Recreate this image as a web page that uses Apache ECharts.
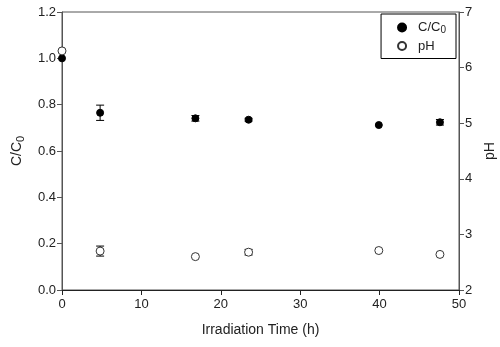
<!DOCTYPE html>
<html>
<head>
<meta charset="utf-8">
<script src="https://cdn.jsdelivr.net/npm/echarts@6/dist/echarts.min.js"></script>
<style>
  html, body { margin: 0; padding: 0; background: #fff; }
  #chart { width: 500px; height: 347px; }
</style>
</head>
<body>
<div id="chart"></div>
<script>
const time = [0, 4.8, 16.8, 23.5, 39.9, 47.6];
const cc0 = [1.00, 0.765, 0.741, 0.735, 0.712, 0.724];
const cc0Err = [0, 0.033, 0.012, 0.006, 0, 0.012];
const ph = [6.3, 2.70, 2.60, 2.68, 2.71, 2.64];
const phErr = [0, 0.09, 0, 0.05, 0, 0];

const font = 'Liberation Sans, Arial, sans-serif';
const chart = echarts.init(document.getElementById('chart'));

const errBars = (ys, errs) => time.map((t, i) => [t, ys[i], errs[i]]).filter(d => d[2] > 0);

const renderErr = (params, api) => {
  const x = api.value(0), y = api.value(1), e = api.value(2);
  const lo = api.coord([x, y - e]);
  const hi = api.coord([x, y + e]);
  const w = 4;
  const style = { stroke: '#000', lineWidth: 1 };
  return {
    type: 'group',
    children: [
      { type: 'line', shape: { x1: lo[0], y1: lo[1], x2: hi[0], y2: hi[1] }, style },
      { type: 'line', shape: { x1: lo[0] - w, y1: lo[1], x2: lo[0] + w, y2: lo[1] }, style },
      { type: 'line', shape: { x1: hi[0] - w, y1: hi[1], x2: hi[0] + w, y2: hi[1] }, style }
    ]
  };
};

const axisCommon = {
  axisTick: { show: true, inside: false, length: 5, lineStyle: { color: '#555' } },
  axisLine: { show: true, lineStyle: { color: '#555' } },
  axisLabel: { color: '#222', fontSize: 13, fontFamily: font, margin: 6 },
  splitLine: { show: false },
  nameTextStyle: { color: '#222', fontSize: 14, fontFamily: font },
};

chart.setOption({
  animation: false,
  grid: {
    left: 62, right: 41, top: 12, bottom: 57, outerBoundsMode: 'none',
    show: true, borderColor: '#555', borderWidth: 1
  },
  legend: {
    data: ['C/C0', 'pH'],
    orient: 'vertical',
    right: 44,
    top: 14,
    padding: [7, 10, 6, 16],
    itemGap: 4,
    itemWidth: 8,
    itemHeight: 8,
    borderColor: '#000',
    borderWidth: 1,
    borderRadius: 0,
    formatter: name => name === 'C/C0' ? 'C/C{sub|0}' : name,
    textStyle: {
      color: '#222', fontSize: 13, fontFamily: font, padding: [0, 0, 0, 7],
      rich: { sub: { fontSize: 10, fontFamily: font, color: '#222', padding: [6, 0, 0, 0] } }
    }
  },
  xAxis: Object.assign({}, axisCommon, {
    type: 'value', min: 0, max: 50, interval: 10,
    name: 'Irradiation Time (h)', nameLocation: 'middle', nameGap: 33,
    axisLine: { show: true, onZero: false, lineStyle: { color: '#222' } },
    axisTick: { show: true, length: 5, lineStyle: { color: '#222' } },
    axisLabel: Object.assign({}, axisCommon.axisLabel, { margin: 8 }),
  }),
  yAxis: [
    Object.assign({}, axisCommon, {
      type: 'value', min: 0, max: 1.2, interval: 0.2, position: 'left',
      name: 'C/C{sub|0}', nameLocation: 'middle', nameGap: 36, nameRotate: 90,
      nameTextStyle: { color: '#222', fontSize: 14, fontFamily: font,
        rich: { sub: { fontSize: 11, fontFamily: font, color: '#222', padding: [7, 0, 0, 0] } } },
      axisLabel: Object.assign({}, axisCommon.axisLabel, { formatter: v => v.toFixed(1) }),
    }),
    Object.assign({}, axisCommon, {
      type: 'value', min: 2, max: 7, interval: 1, position: 'right',
      name: 'pH', nameLocation: 'middle', nameGap: 20, nameRotate: 90,
    })
  ],
  series: [
    {
      type: 'custom', name: 'cc0err', yAxisIndex: 0, renderItem: renderErr,
      data: errBars(cc0, cc0Err), z: 1, silent: true
    },
    {
      type: 'custom', name: 'pherr', yAxisIndex: 1, renderItem: renderErr,
      data: errBars(ph, phErr), z: 1, silent: true
    },
    {
      name: 'C/C0', type: 'scatter', yAxisIndex: 0, symbol: 'circle', symbolSize: 7,
      itemStyle: { color: '#000', borderColor: '#000', borderWidth: 1, opacity: 1 },
      data: time.map((t, i) => [t, cc0[i]]), z: 3
    },
    {
      name: 'pH', type: 'scatter', yAxisIndex: 1, symbol: 'circle', symbolSize: 8,
      itemStyle: { color: '#fff', borderColor: '#333', borderWidth: 1, opacity: 1 },
      data: time.map((t, i) => [t, ph[i]]), z: 3
    }
  ]
});
</script>
</body>
</html>
